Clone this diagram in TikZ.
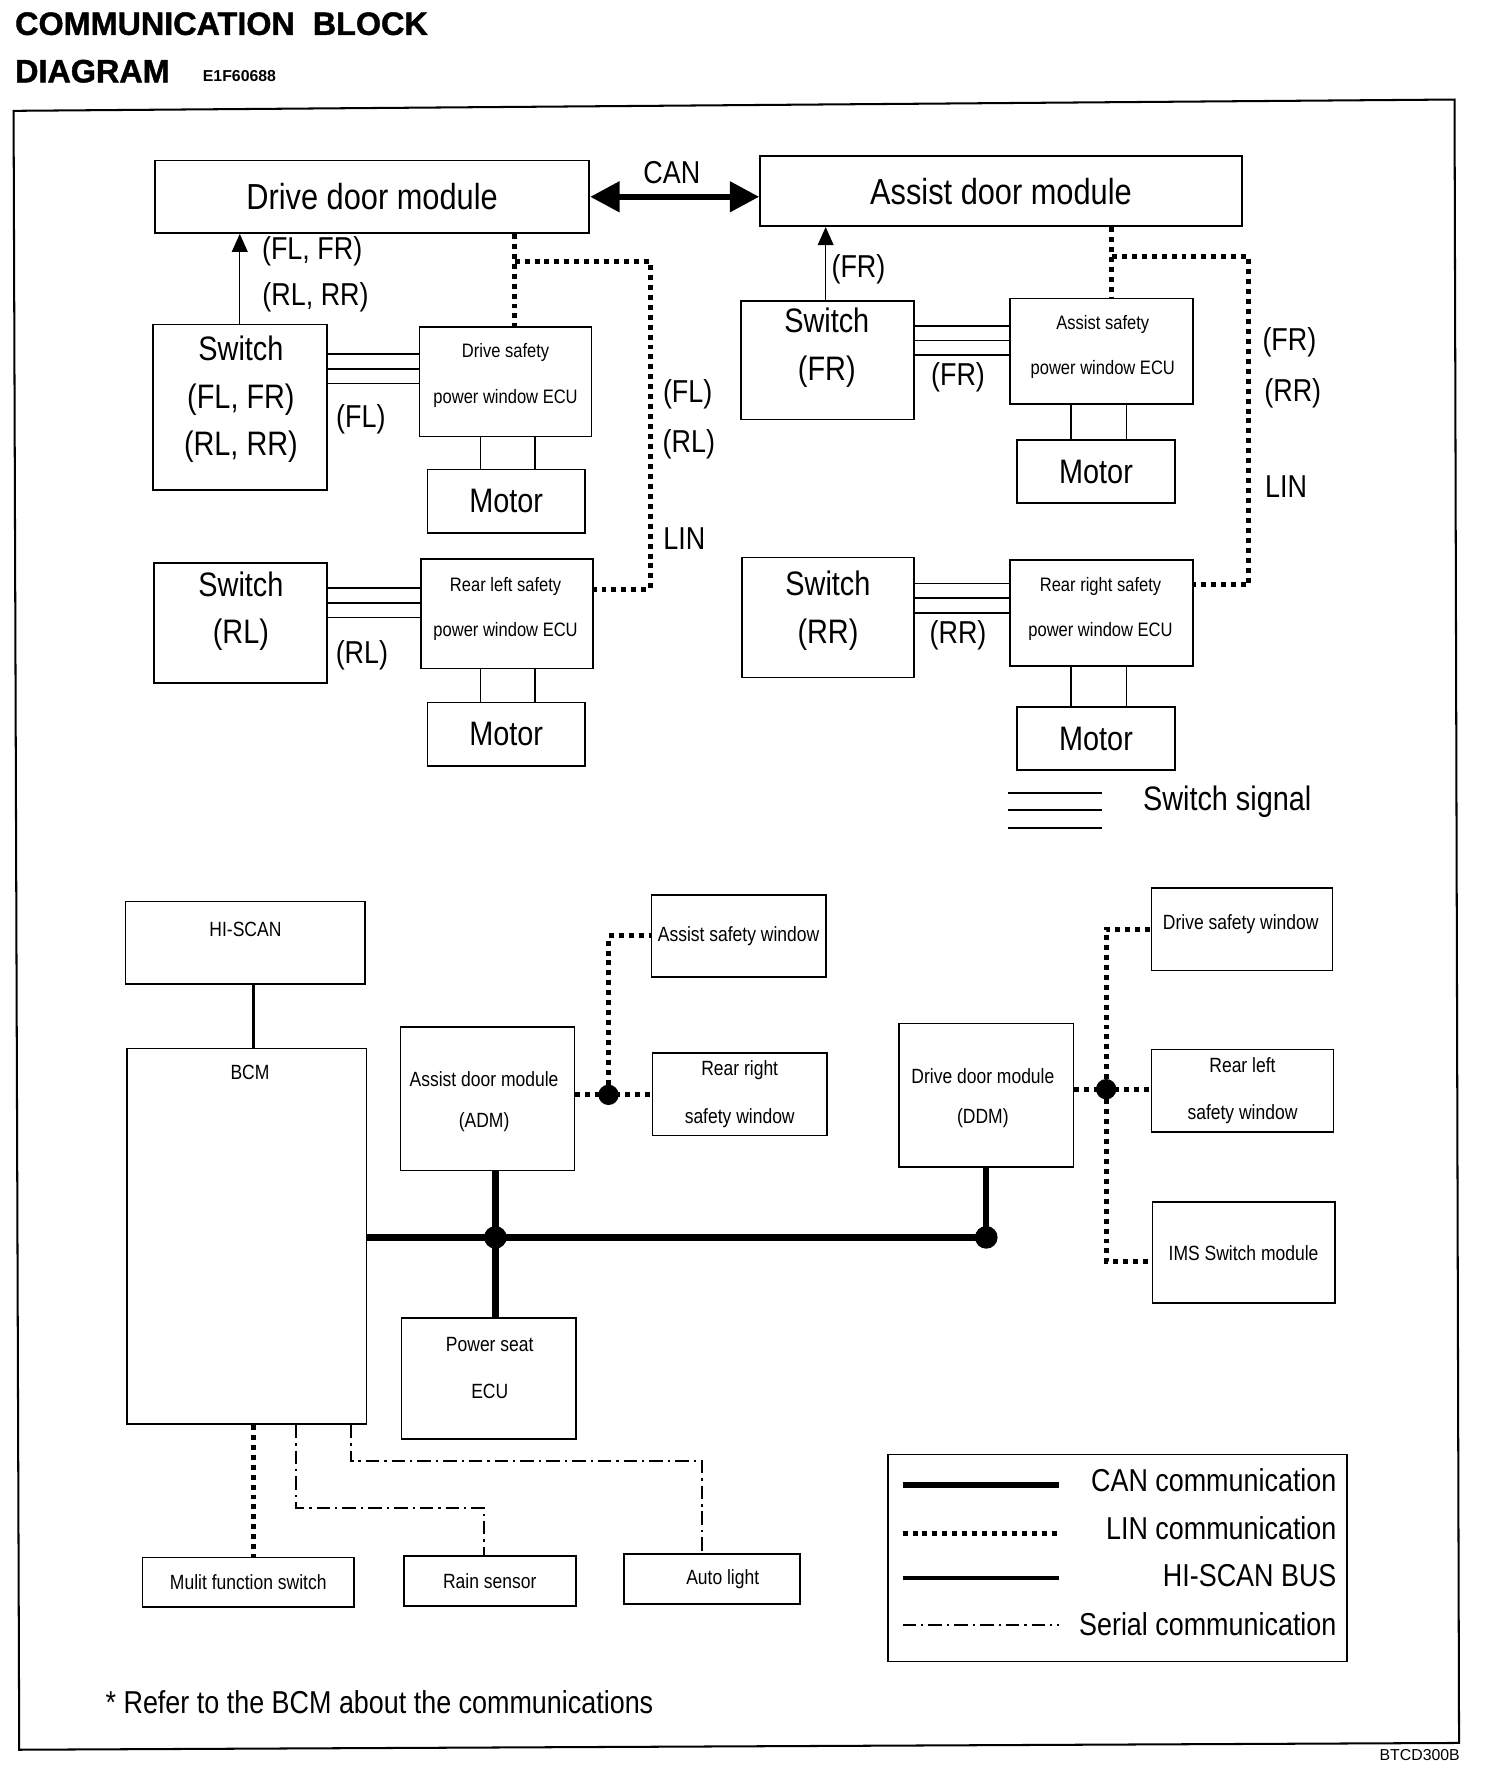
\documentclass[tikz,border=0pt]{standalone}
\usepackage{fontspec}
\setmainfont{Liberation Sans}
\newfontfamily\nrw[FakeStretch=0.85]{Liberation Sans}
\newfontfamily\ttlf[BoldFeatures={FakeBold=1.3}]{Liberation Sans}
\usetikzlibrary{arrows.meta}

\tikzset{
  blk/.style 2 args={draw, line width=0.75pt, inner sep=0pt,
    minimum width=#1*0.5pt, minimum height=#2*0.5pt},
  ttlfnt/.style={font=\ttlf\bfseries\fontsize{14.3}{17}\selectfont, inner sep=0pt},
  modtxt/.style={font=\nrw\fontsize{16}{20}\selectfont},
  swtxt/.style={font=\nrw\fontsize{15}{21}\selectfont, align=center, inner sep=0pt},
  lbl/.style={font=\nrw\fontsize{14}{17}\selectfont, inner sep=0pt},
  ecutxt/.style={font=\nrw\fontsize{8.6}{20}\selectfont, align=center, inner sep=0pt},
  smtxt/.style={font=\nrw\fontsize{9.1}{21}\selectfont, align=center, inner sep=0pt},
  legtxt/.style={font=\nrw\fontsize{14}{17}\selectfont, anchor=east, inner sep=0pt},
  lin/.style={line width=2.2pt, dash pattern=on 2.2pt off 2.2pt},
  can/.style={line width=2.8pt},
  hsbus/.style={line width=1.5pt},
  serial/.style={line width=0.9pt, dash pattern=on 6pt off 2.2pt on 1pt off 2.2pt},
  sig/.style={line width=0.75pt},
  wire/.style={line width=0.6pt},
}

\begin{document}
\begin{tikzpicture}[x=0.5pt, y=-0.5pt]
\useasboundingbox (0,0) rectangle (1330,1572);

% title and frame
\node[ttlfnt, anchor=west] (title1) at (13,21) {COMMUNICATION\ \ BLOCK};
\node[ttlfnt, anchor=west] (title2) at (13,63) {DIAGRAM};
\node[font=\bfseries\fontsize{7}{8}\selectfont, anchor=west, inner sep=0pt] (code) at (179,67) {E1F60688};
\node[font=\fontsize{7}{8}\selectfont, anchor=east, inner sep=0pt] (fig) at (1291,1552) {BTCD300B};
\draw[line width=0.9pt] (12,98) -- (1286,88) -- (1290,1541) -- (17,1547) -- cycle;

% door modules
\node[blk={384}{64}, modtxt] (ddm) at (329,174) {Drive door module};
\node[blk={426}{62}, modtxt] (adm) at (885,169) {Assist door module};
\draw[can, {Triangle[length=13pt,width=13pt]}-{Triangle[length=13pt,width=13pt]}] (ddm.east) -- (ddm.east -| adm.west);
\node[lbl] (canlbl) at (594,153) {CAN};

% drive side
\node[blk={154}{146}] (swA) at (212,360) {};
\node[swtxt] (swA-t) at (213,353) {Switch\\(FL, FR)\\(RL, RR)};
\node[blk={152}{97}] (ecuA) at (447,337.5) {};
\node[ecutxt] (ecuA-t) at (447,332) {Drive safety\\power window ECU};
\node[blk={139}{56}, swtxt] (motA) at (447.5,443) {Motor};

\node[blk={153}{106}] (swRL) at (212.5,551) {};
\node[swtxt] (swRL-t) at (213,540.5) {Switch\\(RL)};
\node[blk={152}{97}] (ecuRL) at (448,542.5) {};
\node[ecutxt] (ecuRL-t) at (447,538.5) {Rear left safety\\power window ECU};
\node[blk={139}{56}, swtxt] (motRL) at (447.5,649) {Motor};

% assist side
\node[blk={153}{105}] (swFR) at (731.5,318.5) {};
\node[swtxt] (swFR-t) at (731,307.5) {Switch\\(FR)};
\node[blk={162}{93}] (ecuFR) at (974,310.5) {};
\node[ecutxt] (ecuFR-t) at (975,307) {Assist safety\\power window ECU};
\node[blk={140}{56}, swtxt] (motFR) at (969,417) {Motor};

\node[blk={152}{106}] (swRR) at (732,546) {};
\node[swtxt] (swRR-t) at (732,540) {Switch\\(RR)};
\node[blk={162}{94}] (ecuRR) at (974,542) {};
\node[ecutxt] (ecuRR-t) at (973,538.5) {Rear right safety\\power window ECU};
\node[blk={140}{56}, swtxt] (motRR) at (969,653) {Motor};

% switch inputs to modules
\draw[wire, -{Triangle[length=8pt,width=7pt]}] (swA.north) -- (swA.north |- ddm.south);
\draw[wire, -{Triangle[length=8pt,width=7pt]}] (swFR.north -| 730,0) -- (adm.south -| 730,0);

% switch signal lines
\foreach \y in {313,326,339} \draw[sig] (swA.east |- 0,\y) -- (ecuA.west |- 0,\y);
\foreach \y in {520,533,546} \draw[sig] (swRL.east |- 0,\y) -- (ecuRL.west |- 0,\y);
\foreach \y in {288,301,314} \draw[sig] (swFR.east |- 0,\y) -- (ecuFR.west |- 0,\y);
\foreach \y in {516,529,542} \draw[sig] (swRR.east |- 0,\y) -- (ecuRR.west |- 0,\y);

% motor wires
\foreach \x in {425,473} {
  \draw[wire] (ecuA.south -| \x,0) -- (motA.north -| \x,0);
  \draw[wire] (ecuRL.south -| \x,0) -- (motRL.north -| \x,0);
}
\foreach \x in {947,996} {
  \draw[wire] (ecuFR.south -| \x,0) -- (motFR.north -| \x,0);
  \draw[wire] (ecuRR.south -| \x,0) -- (motRR.north -| \x,0);
}

% LIN lines
\coordinate (linA) at (455,231);
\coordinate (linB) at (575,521);
\draw[lin] (ddm.south -| linA) -- (ecuA.north -| linA);
\draw[lin] (linA) -| (linB) -- (ecuRL.east |- linB);
\coordinate (linC) at (983,227);
\coordinate (linD) at (1104,517);
\draw[lin] (adm.south -| linC) -- (ecuFR.north -| linC);
\draw[lin] (linC) -| (linD) -- (ecuRR.east |- linD);

% labels
\node[lbl] (flfr) at (276,222) {(FL, FR)};
\node[lbl] (rlrr) at (279,263) {(RL, RR)};
\node[lbl] (fl1) at (319,371) {(FL)};
\node[lbl] (rl1) at (320,579) {(RL)};
\node[lbl] (fl2) at (608,349) {(FL)};
\node[lbl] (rl2) at (609,393) {(RL)};
\node[lbl] (lin1) at (605,476) {LIN};
\node[lbl] (fr1) at (759,238) {(FR)};
\node[lbl] (fr2) at (847,334) {(FR)};
\node[lbl] (rr1) at (847,562) {(RR)};
\node[lbl] (fr3) at (1140,303) {(FR)};
\node[lbl] (rr2) at (1143,348) {(RR)};
\node[lbl] (lin2) at (1137,430) {LIN};

% switch signal key
\foreach \y in {701,716,732} \draw[sig] (891,\y) -- (974,\y);
\node[swtxt] (sgkey) at (1085,709) {Switch signal};

% BCM network
\node[blk={212}{73}] (hiscan) at (217,833.5) {};
\node[smtxt] (hiscan-t) at (217,822) {HI-SCAN};
\node[blk={212}{332}] (bcm) at (218,1093) {};
\node[smtxt] (bcm-t) at (221,948) {BCM};
\node[blk={154}{127}] (admB) at (431,971.5) {};
\node[smtxt] (admB-t) at (428,974) {Assist door module\\[-3pt](ADM)};
\node[blk={154}{73}, smtxt] (aswin) at (653,827.5) {Assist safety window};
\node[blk={154}{73}, smtxt] (rrwin) at (654,967.5) {Rear right\\safety window};
\node[blk={154}{107}] (pseat) at (432,1218.5) {};
\node[smtxt] (pseat-t) at (433,1209.5) {Power seat\\ECU};
\node[blk={154}{127}] (ddmB) at (872,968.5) {};
\node[smtxt] (ddmB-t) at (869,971) {Drive door module\\[-3pt](DDM)};
\node[blk={160}{73}] (dswin) at (1098,821.5) {};
\node[smtxt] (dswin-t) at (1097,817) {Drive safety window};
\node[blk={161}{73}, smtxt] (rlwin) at (1098.5,964.5) {Rear left\\safety window};
\node[blk={161}{89}, smtxt] (ims) at (1099.5,1107.5) {IMS Switch module};
\node[blk={187}{44}, smtxt] (mfs) at (219.5,1399) {Mulit function switch};
\node[blk={152}{44}, smtxt] (rain) at (433,1398) {Rain sensor};
\node[blk={155}{44}] (auto) at (629.5,1396) {};
\node[smtxt] (auto-t) at (639,1396) {Auto light};

\draw[hsbus] (hiscan.south -| 224,0) -- (bcm.north -| 224,0);

% CAN bus
\coordinate (canJ1) at (438,1094);
\coordinate (canJ2) at (872,1094);
\draw[can] (bcm.east |- canJ1) -- (canJ2);
\draw[can] (admB.south -| canJ1) -- (pseat.north -| canJ1);
\draw[can] (ddmB.south -| canJ2) -- (canJ2);
\fill (canJ1) circle[radius=5pt];
\fill (canJ2) circle[radius=5pt];

% LIN branches
\coordinate (linJ1) at (538,968);
\draw[lin] (admB.east |- linJ1) -- (rrwin.west |- linJ1);
\draw[lin] (linJ1) |- (aswin.west);
\fill (linJ1) circle[radius=4.5pt];
\coordinate (linJ2) at (978,963);
\draw[lin] (ddmB.east |- linJ2) -- (rlwin.west |- linJ2);
\draw[lin] (linJ2) |- (dswin.west);
\draw[lin] (linJ2) |- (ims.west |- 0,1115);
\fill (linJ2) circle[radius=4.5pt];

% BCM outputs
\draw[lin] (bcm.south -| 224,0) -- (mfs.north -| 224,0);
\coordinate (serA) at (262,1333);
\coordinate (serB) at (310,1292);
\draw[serial] (bcm.south -| serA) -- (serA) -| (rain.north -| 428,0);
\draw[serial] (bcm.south -| serB) -- (serB) -| (auto.north -| 621,0);

% legend
\node[blk={406}{183}] (legend) at (988,1377.5) {};
\draw[can] (798,1313) -- (936,1313);
\draw[lin] (798,1356) -- (936,1356);
\draw[hsbus] (798,1395) -- (936,1395);
\draw[serial] (798,1437) -- (936,1437);
\node[legtxt] (lgcan) at (1182,1309) {CAN communication};
\node[legtxt] (lglin) at (1182,1351) {LIN communication};
\node[legtxt] (lghs) at (1182,1393) {HI-SCAN BUS};
\node[legtxt] (lgser) at (1182,1436) {Serial communication};

\node[lbl, anchor=west] (note) at (93,1505) {* Refer to the BCM about the communications};
\end{tikzpicture}
\end{document}
